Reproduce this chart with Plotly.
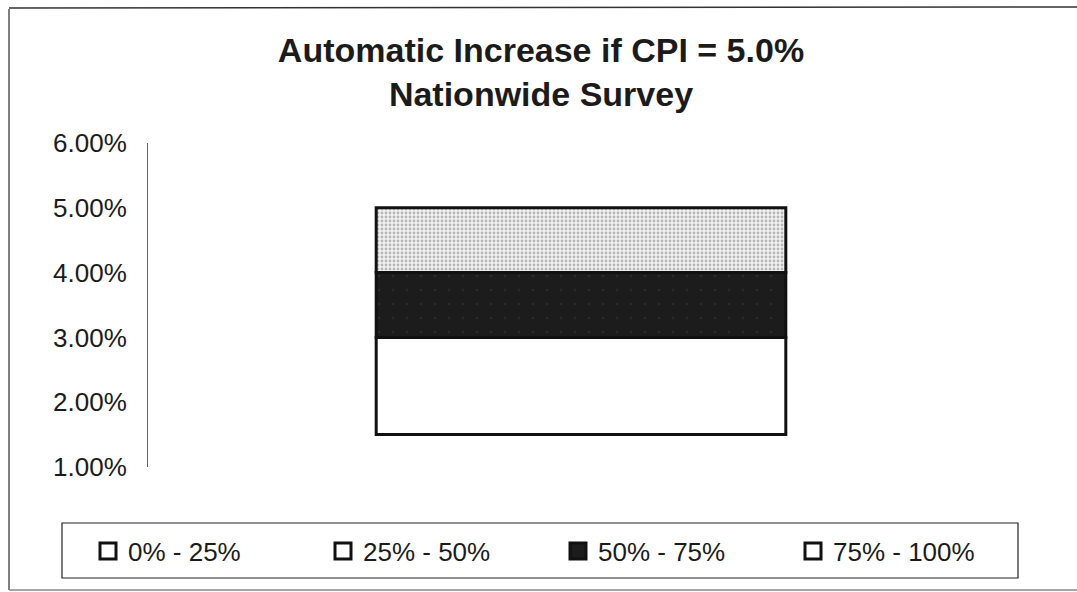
import plotly.graph_objects as go

# Survey quartile boundaries for the automatic increase (fractions)
group = ["Nationwide"]
quartile_labels = ["0% - 25%", "25% - 50%", "50% - 75%", "75% - 100%"]
lower_bounds = [0.015, 0.030, 0.030, 0.040]
upper_bounds = [0.030, 0.030, 0.040, 0.050]

y_ticks = [0.01, 0.02, 0.03, 0.04, 0.05, 0.06]

W, H = 1077, 592
ML, MR, MT, MB = 148, 63, 143, 125
PW, PH = W - ML - MR, H - MT - MB


def px_x(px):
    return (px - ML) / PW


def px_y(py):
    return (H - MB - py) / PH


FONT = "Arial, Liberation Sans, sans-serif"
INK = "#1b1b1b"

seg_fill = ["#ffffff", "#ffffff", "#1c1c1c", "#f2f2f2"]
seg_pattern = [
    dict(shape=""),
    dict(shape=""),
    dict(shape=".", fgcolor="#3a3a3a", bgcolor="#1c1c1c", size=14, solidity=0.03),
    dict(shape=".", fgcolor="#7a7a7a", bgcolor="#f2f2f2", size=4, solidity=0.4),
]
legend_fill = ["#ffffff", "#ffffff", "#1c1c1c", "#ffffff"]

fig = go.Figure()

for i, name in enumerate(quartile_labels):
    fig.add_trace(go.Bar(
        x=[0],
        y=[upper_bounds[i] - lower_bounds[i]],
        base=[lower_bounds[i]],
        name=name,
        showlegend=False,
        marker=dict(color=seg_fill[i], pattern=seg_pattern[i],
                    line=dict(color="#111111", width=3)),
        hovertext=group,
    ))

# Legend entries with larger square swatches
for i, name in enumerate(quartile_labels):
    fig.add_trace(go.Scatter(
        x=[None], y=[None], mode="markers", name=name,
        marker=dict(symbol="square", size=16, color=legend_fill[i],
                    line=dict(color="#111111", width=3)),
    ))

shapes = [
    # outer frame
    dict(type="line", xref="paper", yref="paper", x0=px_x(9), x1=px_x(9),
         y0=px_y(9), y1=px_y(590), line=dict(color="#555555", width=1.5)),
    dict(type="line", xref="paper", yref="paper", x0=px_x(9), x1=px_x(1077),
         y0=px_y(8), y1=px_y(7), line=dict(color="#333333", width=1.5)),
    dict(type="line", xref="paper", yref="paper", x0=px_x(9), x1=px_x(1077),
         y0=px_y(590), y1=px_y(590), line=dict(color="#888888", width=1.5)),
    # legend frame
    dict(type="rect", xref="paper", yref="paper", x0=px_x(62), x1=px_x(1018),
         y0=px_y(523), y1=px_y(578), line=dict(color="#222222", width=1.2),
         fillcolor="rgba(0,0,0,0)", layer="below"),
]

fig.update_layout(
    width=W, height=H,
    margin=dict(l=ML, r=MR, t=MT, b=MB),
    paper_bgcolor="white", plot_bgcolor="white",
    font=dict(family=FONT, color=INK),
    title=dict(
        text="<b>Automatic Increase if CPI = 5.0%<br>Nationwide Survey</b>",
        font=dict(size=34, family=FONT, color=INK),
        x=541 / W, xanchor="center", xref="container",
        y=1 - 62 / H, yanchor="top", yref="container",
    ),
    barmode="overlay",
    bargap=0.527,
    showlegend=True,
    legend=dict(
        orientation="h",
        x=px_x(88), xanchor="left",
        y=px_y(551), yanchor="middle",
        entrywidth=190,
        font=dict(size=26, family=FONT, color=INK),
        bgcolor="rgba(0,0,0,0)",
        borderwidth=0,
    ),
    shapes=shapes,
)

fig.update_xaxes(visible=False, range=[-0.5, 0.5])
fig.update_yaxes(
    range=[0.01, 0.06], tickvals=y_ticks, tickformat=".2%",
    showgrid=False, zeroline=False,
    showline=True, linecolor="#666666", linewidth=1,
    ticks="", ticklabelstandoff=15,
    tickfont=dict(size=26, family=FONT, color=INK),
)

fig.write_html("out.html")
